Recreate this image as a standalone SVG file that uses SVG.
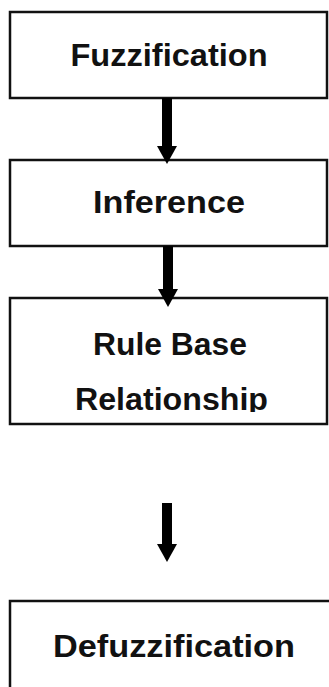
<svg xmlns="http://www.w3.org/2000/svg" width="329" height="687" viewBox="0 0 329 687">
  <style>
    .box { fill: #ffffff; stroke: #111111; stroke-width: 2.5; }
    .lbl { font-family: "Liberation Sans", Arial, sans-serif; font-weight: bold; font-size: 32px; fill: #111111; text-anchor: middle; }
    .conn { stroke: #000000; stroke-width: 10; fill: none; }
  </style>
  <defs>
    <marker id="head" markerUnits="userSpaceOnUse" markerWidth="18" markerHeight="20" refX="1" refY="10" orient="auto" overflow="visible">
      <path d="M0,0 L18,10 L0,20 Z" fill="#000000"/>
    </marker>
    <clipPath id="clip3">
      <rect x="10" y="298" width="317" height="114"/>
    </clipPath>
  </defs>
  <rect width="329" height="687" fill="#ffffff"/>
  <g id="n1">
    <rect class="box" x="10" y="12" width="317" height="86"/>
    <text class="lbl" x="169" y="66" textLength="197" lengthAdjust="spacingAndGlyphs">Fuzzification</text>
  </g>
  <g id="n2">
    <rect class="box" x="10" y="160" width="317" height="86"/>
    <text class="lbl" x="169" y="213" textLength="152" lengthAdjust="spacingAndGlyphs">Inference</text>
  </g>
  <g id="n3">
    <rect class="box" x="10" y="298" width="317" height="126"/>
    <g clip-path="url(#clip3)">
      <text class="lbl" x="170" y="355" textLength="154" lengthAdjust="spacingAndGlyphs">Rule Base</text>
      <text class="lbl" x="171.5" y="410" textLength="193" lengthAdjust="spacingAndGlyphs">Relationship</text>
    </g>
  </g>
  <g id="n4">
    <path class="box" d="M10,692 V601 H335"/>
    <text class="lbl" x="174" y="657" textLength="242" lengthAdjust="spacingAndGlyphs">Defuzzification</text>
  </g>
  <g id="connectors">
    <line class="conn" x1="167" y1="98" x2="167" y2="147" marker-end="url(#head)"/>
    <line class="conn" x1="168" y1="246" x2="168" y2="290" marker-end="url(#head)"/>
    <line class="conn" x1="167" y1="503" x2="167" y2="545" marker-end="url(#head)"/>
  </g>
</svg>
